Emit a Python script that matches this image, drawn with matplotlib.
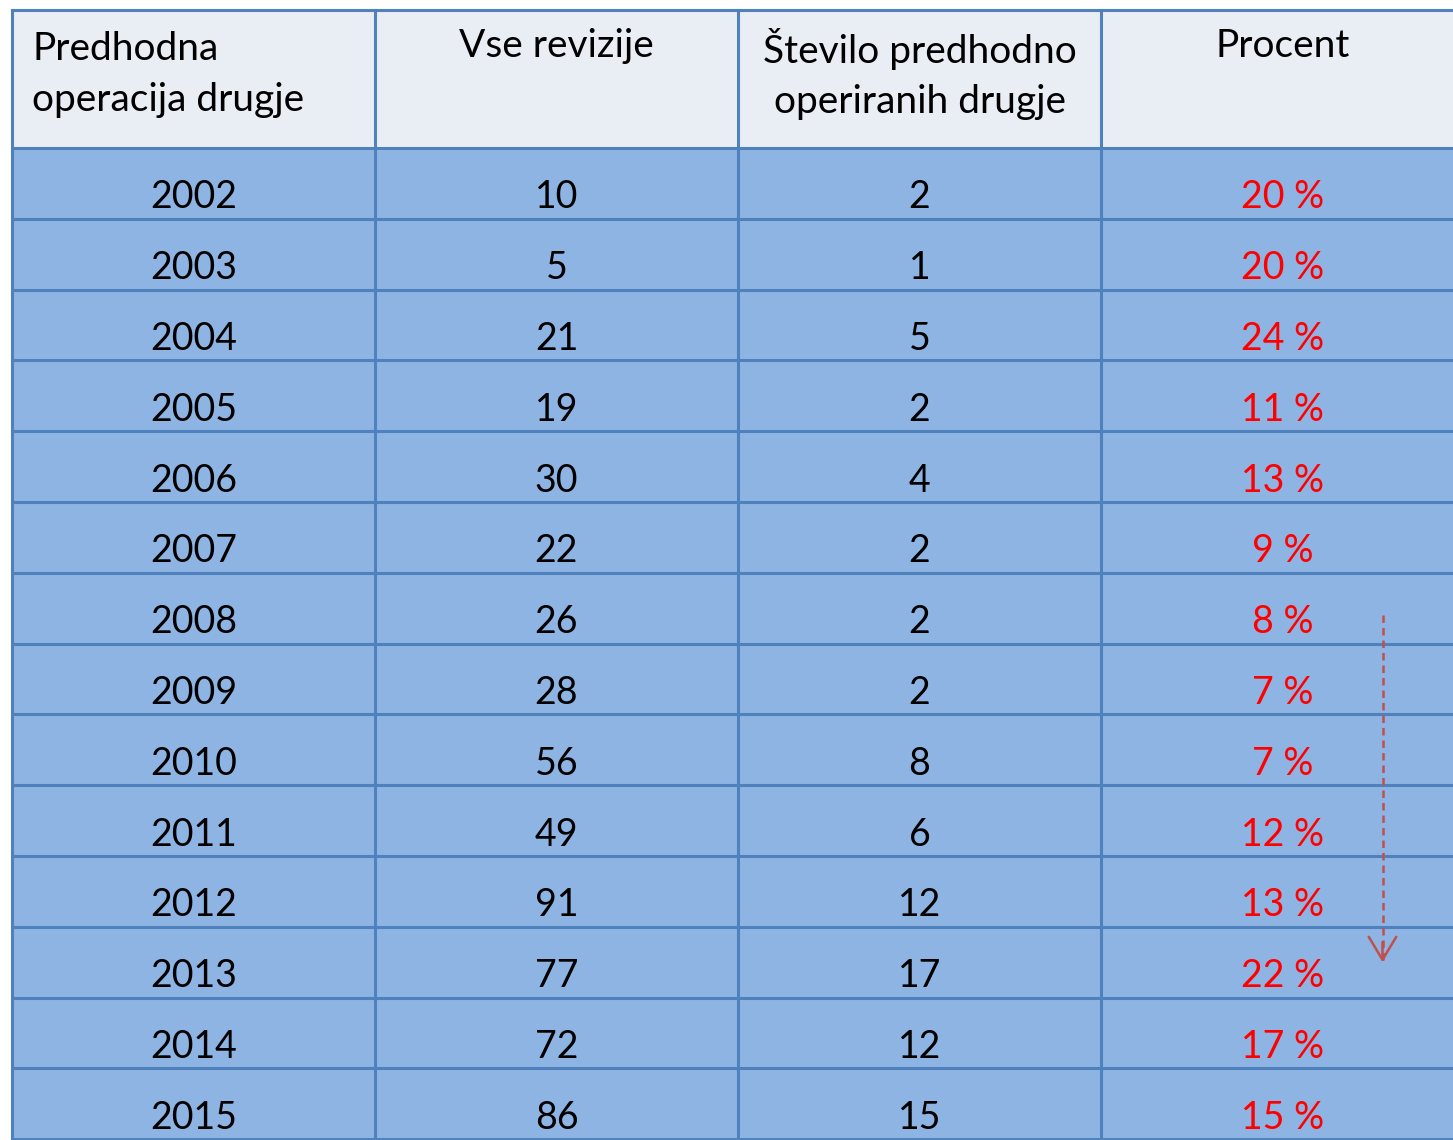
import matplotlib
matplotlib.use("Agg")
import matplotlib.pyplot as plt
from matplotlib.patches import Rectangle, FancyArrowPatch

years = [2002, 2003, 2004, 2005, 2006, 2007, 2008, 2009, 2010, 2011, 2012, 2013, 2014, 2015]
vse_revizije = [10, 5, 21, 19, 30, 22, 26, 28, 56, 49, 91, 77, 72, 86]
predhodno = [2, 1, 5, 2, 4, 2, 2, 2, 8, 6, 12, 17, 12, 15]
procent = [20, 20, 24, 11, 13, 9, 8, 7, 7, 12, 13, 22, 17, 15]
headers = ["Predhodna\noperacija drugje", "Vse revizije",
           "Število predhodno\noperiranih drugje", "Procent"]

FONT = "Lato"
W, H = 1453, 1140
fig = plt.figure(figsize=(W / 100, H / 100), dpi=100)
ax = fig.add_axes([0, 0, 1, 1])
ax.set_xlim(0, W)
ax.set_ylim(H, 0)
ax.axis("off")

left, top = 12, 10
col_w = 363
header_h = 138
row_h = 70.8
ncols = 4
line_c = "#4F81BD"
head_bg = "#E9EDF4"
row_bg = "#8EB4E3"

ax.add_patch(Rectangle((left, top), col_w * ncols, header_h, facecolor=head_bg, edgecolor="none"))
nrows = len(years)
y0 = top + header_h
ax.add_patch(Rectangle((left, y0), col_w * ncols, row_h * nrows, facecolor=row_bg, edgecolor="none"))

for i in range(nrows + 1):
    y = y0 + i * row_h
    ax.plot([left, left + col_w * ncols], [y, y], color=line_c, lw=2.2, solid_capstyle="butt")
ax.plot([left, left + col_w * ncols], [top, top], color=line_c, lw=2.2)
for j in range(ncols + 1):
    x = left + j * col_w
    ax.plot([x, x], [top, y0 + nrows * row_h], color=line_c, lw=2.2)

fs = 27
hfs = 28
for j, h in enumerate(headers):
    if j == 0:
        ax.text(left + 20, top + 21, h, ha="left", va="top", fontsize=hfs, family=FONT,
                linespacing=1.5)
    else:
        ax.text(left + (j + 0.5) * col_w, top + 18, h, ha="center", va="top", fontsize=hfs,
                family=FONT, linespacing=1.5, multialignment="center")

for i in range(nrows):
    yc = y0 + (i + 0.5) * row_h + 14
    vals = [str(years[i]), str(vse_revizije[i]), str(predhodno[i])]
    for j, v in enumerate(vals):
        ax.text(left + (j + 0.5) * col_w, yc, v, ha="center", va="center", fontsize=fs,
                family=FONT, color="black")
    ax.text(left + 3.5 * col_w, yc, f"{procent[i]} %", ha="center", va="center", fontsize=fs,
            family=FONT, color="#FF0000")

# dashed arrow (2008 -> 2013)
xa = left + 3.5 * col_w + 100
ya0, ya1 = y0 + 6.6 * row_h, y0 + 11.5 * row_h
ax.plot([xa, xa], [ya0, ya1 - 2], color="#C0504D", lw=1.8, linestyle=(0, (3, 2)), zorder=5)
arrow = FancyArrowPatch((xa, ya1 - 20), (xa, ya1),
                        arrowstyle="->,head_length=0.75,head_width=0.45", color="#C0504D",
                        lw=1.8, mutation_scale=22, shrinkA=0, shrinkB=0, zorder=5)
ax.add_patch(arrow)

fig.savefig("out.png", dpi=100)
